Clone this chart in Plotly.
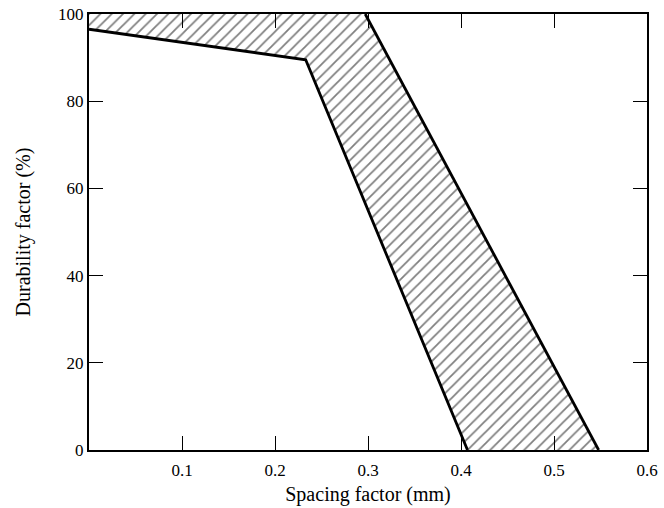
import plotly.graph_objects as go

# Band boundaries (spacing factor mm, durability factor %)
upper_x = [0.0, 0.297, 0.548]
upper_y = [100, 100, 0]
lower_x = [0.0, 0.233, 0.407]
lower_y = [96.5, 89.5, 0]

x_ticks = [0.1, 0.2, 0.3, 0.4, 0.5, 0.6]
x_labels = ["0.1", "0.2", "0.3", "0.4", "0.5", "0.6"]
y_ticks = [0, 20, 40, 60, 80, 100]
y_labels = ["0", "20", "40", "60", "80", "100"]

poly_x = upper_x + lower_x[::-1]
poly_y = upper_y + lower_y[::-1]

fig = go.Figure()
fig.add_trace(go.Scatter(
    x=poly_x + [poly_x[0]], y=poly_y + [poly_y[0]],
    mode="lines", fill="toself", line=dict(width=0, color="black"),
    fillcolor="white",
    fillpattern=dict(shape="/", size=8, solidity=0.22, fgcolor="black", bgcolor="white"),
    hoverinfo="skip", showlegend=False))
fig.add_trace(go.Scatter(x=upper_x[1:], y=upper_y[1:], mode="lines",
                         line=dict(color="black", width=2.8), showlegend=False))
fig.add_trace(go.Scatter(x=lower_x, y=lower_y, mode="lines",
                         line=dict(color="black", width=2.8), showlegend=False))

font = dict(family="Liberation Serif, Times New Roman, serif", size=17, color="black")
fig.update_layout(
    width=664, height=508,
    margin=dict(l=89, r=17, t=14, b=58),
    paper_bgcolor="white", plot_bgcolor="white",
    font=font,
    xaxis=dict(range=[0, 0.6], tickvals=x_ticks, ticktext=x_labels,
               ticks="inside", ticklen=14, tickwidth=1.3, tickcolor="black",
               ticklabelstandoff=4,
               showline=True, linecolor="black", linewidth=2, mirror="ticks",
               showgrid=False, zeroline=False, automargin=False,
               title=dict(text="Spacing factor (mm)", standoff=8)),
    yaxis=dict(range=[0, 100], tickvals=y_ticks, ticktext=y_labels,
               ticks="inside", ticklen=14, tickwidth=1.3, tickcolor="black",
               showline=True, linecolor="black", linewidth=2, mirror="ticks",
               showgrid=False, zeroline=False, automargin=False,
               title=dict(text="Durability factor (%)", standoff=22)),
)
fig.write_html("out.html")
